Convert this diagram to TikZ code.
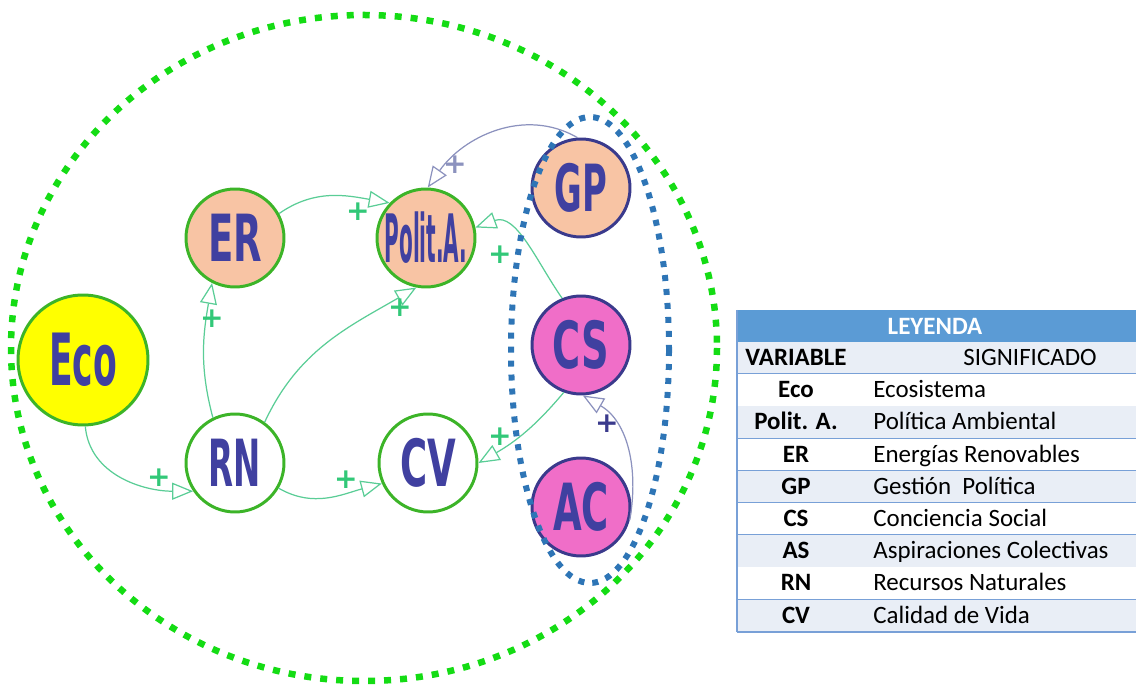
\documentclass[tikz,border=0pt]{standalone}
\usepackage{graphicx}
\usepackage{fontspec}
\setmainfont{Carlito}
\newfontfamily\varfont{DejaVu Sans}
\usepackage{tikz}
\usetikzlibrary{arrows.meta}

\definecolor{peach}{RGB}{248,196,164}
\definecolor{pinkfill}{RGB}{240,110,200}
\definecolor{ecoyellow}{RGB}{255,255,0}
\definecolor{ringgreen}{RGB}{60,180,40}
\definecolor{ringblue}{RGB}{58,58,140}
\definecolor{varblue}{RGB}{64,64,160}
\definecolor{linkgreen}{RGB}{90,205,150}
\definecolor{linkgray}{RGB}{140,146,190}
\definecolor{plusgreen}{RGB}{50,200,120}
\definecolor{dotgreen}{RGB}{20,220,20}
\definecolor{dotblue}{RGB}{46,117,182}
\definecolor{headblue}{RGB}{91,155,213}
\definecolor{rowlight}{RGB}{233,238,246}
\definecolor{rowline}{RGB}{120,160,215}

\newcommand{\vlbl}[2]{\scalebox{#1}[1]{#2}}

\tikzset{
  var/.style={circle, minimum size=1.96cm, inner sep=0pt, line width=1.7pt,
    text=varblue, font=\varfont\bfseries\fontsize{37}{37}\selectfont},
  link/.style={linkgreen, line width=0.7pt,
    -{Triangle[open,length=0.42cm,width=0.34cm]}},
  plus/.style={font=\varfont\bfseries\fontsize{16}{16}\selectfont, text=plusgreen, inner sep=0pt},
  cell/.style={inner sep=0pt, font=\fontsize{14.2}{16}\selectfont},
}

\begin{document}
\begin{tikzpicture}[x=0.02cm,y=-0.02cm]

  \useasboundingbox (0,0) rectangle (1136,685);

  % Variables
  \node[var, minimum size=2.6cm, fill=ecoyellow, draw=ringgreen,
    font=\varfont\bfseries\fontsize{41}{41}\selectfont] (Eco) at (83,360) {\vlbl{0.48}{Eco}};
  \node[var, fill=peach, draw=ringgreen] (ER) at (235,238) {\vlbl{0.57}{ER}};
  \node[var, fill=peach, draw=ringgreen,
    font=\varfont\bfseries\fontsize{38}{38}\selectfont] (PA) at (426,238) {\vlbl{0.30}{Polit.A.}};
  \node[var, fill=peach, draw=ringblue] (GP) at (581,188) {\vlbl{0.52}{GP}};
  \node[var, fill=pinkfill, draw=ringblue] (CS) at (581,345) {\vlbl{0.59}{CS}};
  \node[var, fill=pinkfill, draw=ringblue] (AC) at (581,507) {\vlbl{0.57}{AC}};
  \node[var, fill=white, draw=ringgreen] (RN) at (235,463) {\vlbl{0.5}{RN}};
  \node[var, fill=white, draw=ringgreen] (CV) at (428,463) {\vlbl{0.57}{CV}};

  % Links
  \draw[link] (Eco.-88) to[out=-85,in=180] (RN.214);
  \draw[link] (RN.116) to[out=105,in=-100] (ER.243);
  \draw[link] (RN.54) to[out=65,in=210] (PA.259);
  \draw[link] (ER.29) to[out=35,in=170] (PA.136);
  \draw[link] (RN.-30) to[out=-30,in=195] (CV.204);
  \draw[link] (CS.112) to[out=125,in=20] (PA.12);
  \draw[link] (CS.250) to[out=230,in=30] (CV.0);
  \draw[link, linkgray] (GP.94) to[out=150,in=55] (PA.88);
  \draw[link, linkgray] (AC.-15) to[out=80,in=-30] (CS.-88);

  % Signs
  \node[plus] (p1) at (159,478) {+};
  \node[plus] (p2) at (212,319) {+};
  \node[plus] (p3) at (400,308) {+};
  \node[plus] (p4) at (358,212) {+};
  \node[plus] (p5) at (346,480) {+};
  \node[plus] (p6) at (500,255) {+};
  \node[plus] (p7) at (500,437) {+};
  \node[plus, text=linkgray] (p8) at (455,165) {+};
  \node[plus, text=ringblue] (p9) at (607,424) {+};

  % Dotted boundaries
  \draw[dotgreen, line width=0.13cm, dash pattern=on 0.14cm off 0.18cm]
    (364,348) ellipse [x radius=353, y radius=333];
  \draw[dotblue, line width=0.12cm, dash pattern=on 0.12cm off 0.16cm]
    (590,350) ellipse [x radius=79, y radius=233];

  % Legend
  \fill[headblue] (737,310) rectangle (1136,342);
  \node[cell, text=white, font=\bfseries\fontsize{14.2}{16}\selectfont] (leyenda) at (935,326) {LEYENDA};
  \fill[rowlight] (737,342) rectangle (1136,374.2);
  \node[cell, anchor=base, font=\bfseries\fontsize{14.2}{16}\selectfont] (vhead) at (796,365.5) {VARIABLE};
  \node[cell, anchor=base] (shead) at (1030,365.5) {SIGNIFICADO};
  \draw[rowline, line width=1pt] (737,374.2) -- (1136,374.2);
  \foreach \i/\v/\s/\c in {
    1/Eco/Ecosistema/white,
    2/{Polit. A.}/{Política Ambiental}/rowlight,
    3/ER/{Energías Renovables}/white,
    4/GP/{Gestión\ \ Política}/rowlight,
    5/CS/{Conciencia Social}/white,
    6/AS/{Aspiraciones Colectivas}/rowlight,
    7/RN/{Recursos Naturales}/white,
    8/CV/{Calidad de Vida}/rowlight%
  }{
    \fill[\c] (737,342+32.2*\i) rectangle (1136,374.2+32.2*\i);
    \node[cell, anchor=base, font=\bfseries\fontsize{14.2}{16}\selectfont] (v\i) at (796,365.5+32.2*\i) {\v};
    \node[cell, anchor=base west] (s\i) at (873,365.5+32.2*\i) {\s};
    \draw[rowline, line width=1pt] (737,374.2+32.2*\i) -- (1136,374.2+32.2*\i);
  }
  \draw[rowline, line width=1pt] (737,310) -- (737,632);

\end{tikzpicture}
\end{document}
